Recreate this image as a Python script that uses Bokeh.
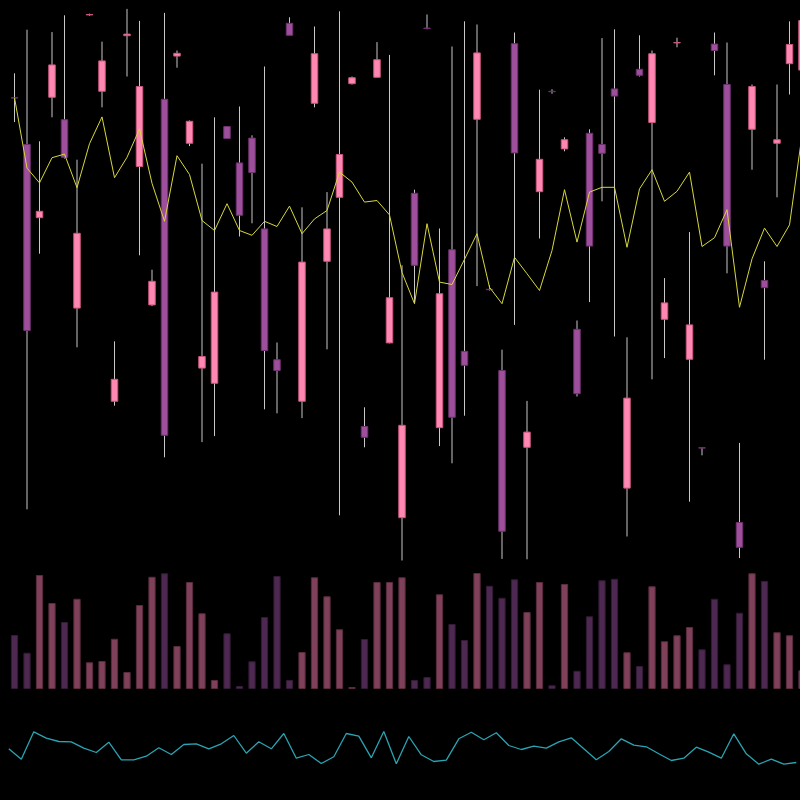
from bokeh.plotting import figure
from bokeh.layouts import column
from bokeh.models import ColumnDataSource, Range1d, GlobalInlineStyleSheet
from bokeh.embed import file_html
from bokeh.resources import INLINE

# ---- data ----
open_ = [125.7, 114.0, 95.7, 125.8, 120.2, 73.1, 146.4, 127.3, 49.8, 141.2,
         108.5, 73.9, 125.3, 136.1, 114.3, 58.1, 54.3, 118.5, 109.4, 115.6,
         92.9, 60.2, 144.3, 49.8, 124.3, 84.8, 100.8, 129.2, 43.5, 130.8,
         64.4, 20.7, 101.8, 143.1, 43.2, 87.7, 62.3, 120.3, 77.8, 57.5,
         139.2, 38.3, 102.2, 127.3, 112.9, 67.8, 116.8, 114.0, 127.9, 28.1,
         132.8, 119.5, 70.3, 139.4, 60.3, 38.2, 139.1, 129.0, 19.5, 117.8,
         80.0, 114.3, 134.2, 132.6]
close = [125.6, 67.5, 97.3, 133.9, 110.8, 91.8, 146.5, 134.9, 55.3, 141.6,
         128.5, 79.8, 41.3, 136.8, 119.8, 61.0, 77.1, 115.5, 96.3, 107.0,
         62.5, 57.5, 141.3, 84.6, 136.7, 92.9, 111.5, 130.7, 40.8, 135.2,
         75.7, 43.8, 83.8, 143.0, 76.7, 45.8, 58.8, 136.9, 77.7, 17.3,
         111.9, 42.1, 110.3, 127.2, 115.2, 51.7, 88.6, 111.8, 126.1, 50.6,
         131.3, 136.7, 74.4, 139.5, 68.9, 38.1, 137.5, 88.6, 13.3, 128.5,
         78.2, 115.2, 139.0, 145.0]
high = [131.8, 142.7, 114.8, 142.1, 146.3, 110.2, 146.7, 139.7, 64.8, 147.9,
        144.9, 82.7, 146.9, 137.5, 120.0, 109.2, 120.8, 118.5, 123.5, 116.3,
        133.5, 64.5, 145.8, 98.3, 143.5, 102.1, 147.3, 131.0, 48.3, 139.6,
        136.4, 83.8, 102.7, 146.5, 93.0, 138.5, 144.8, 144.0, 78.8, 62.7,
        142.0, 49.9, 127.7, 127.8, 115.8, 70.0, 117.8, 140.6, 142.8, 65.8,
        141.3, 137.5, 80.6, 140.7, 92.1, 38.2, 142.0, 139.5, 39.4, 129.0,
        84.8, 129.0, 144.8, 146.3]
low = [119.6, 22.8, 86.7, 120.8, 110.5, 63.3, 146.2, 123.3, 48.7, 131.0,
       86.3, 73.6, 35.8, 133.2, 113.6, 39.6, 41.1, 115.5, 91.0, 94.3,
       47.8, 46.8, 141.3, 45.6, 123.3, 62.8, 21.3, 129.0, 38.3, 130.8,
       64.3, 10.0, 74.3, 142.8, 38.6, 34.3, 46.2, 78.6, 77.5, 10.4,
       68.9, 10.3, 90.5, 126.7, 112.3, 51.0, 74.6, 99.8, 66.0, 16.0,
       131.0, 55.3, 60.6, 138.3, 24.7, 36.3, 131.3, 81.8, 10.6, 107.7,
       60.2, 100.8, 126.5, 131.3]
avg_line = [125.7, 108.1, 104.4, 110.7, 111.6, 103.2, 114.2, 120.9, 105.7, 110.8,
            117.9, 104.3, 94.8, 111.2, 106.5, 95.0, 92.5, 99.2, 92.5, 91.3,
            94.8, 93.5, 98.6, 91.7, 95.4, 97.5, 107.1, 104.6, 99.6, 100.0,
            96.4, 82.0, 74.2, 94.2, 79.6, 79.0, 85.3, 91.7, 78.3, 74.2,
            85.8, 81.7, 77.5, 87.5, 102.7, 89.6, 102.1, 103.3, 103.3, 88.3,
            102.9, 107.7, 99.8, 102.3, 107.1, 88.5, 90.7, 97.7, 73.3, 85.4,
            93.1, 88.5, 93.9, 116.3]
volume = [4240, 2820, 9040, 6800, 5280, 7140, 2060, 2160, 3940, 1280,
          6640, 8900, 9180, 3360, 8480, 5980, 640, 4380, 160, 2140,
          5680, 8960, 640, 2880, 8860, 7340, 4700, 80, 3920, 8480,
          8480, 8860, 640, 880, 7500, 5120, 3840, 9200, 8180, 7220,
          8700, 6080, 8480, 220, 8320, 1380, 5740, 8620, 8740, 2860,
          1760, 8140, 3740, 4220, 4880, 3100, 7140, 1900, 6020, 9180,
          8560, 4460, 4220, 1420]
indicator = [51.7, 41.3, 68.7, 62.3, 59.0, 58.7, 52.3, 48.0, 58.3, 40.7,
             40.7, 44.3, 52.7, 46.0, 56.0, 56.7, 51.7, 56.7, 65.0, 47.3,
             58.7, 51.7, 67.0, 42.3, 46.0, 37.0, 43.7, 67.0, 64.3, 42.7,
             69.0, 36.7, 64.0, 45.7, 39.0, 40.3, 61.7, 68.3, 60.7, 67.7,
             55.0, 51.0, 54.3, 52.3, 58.7, 62.7, 51.7, 40.7, 49.0, 61.7,
             55.3, 53.7, 46.7, 40.0, 42.3, 53.3, 48.3, 42.3, 66.7, 46.7,
             36.3, 41.3, 36.3, 38.0]

# ---- styles ----
UP = "#ff88b3"
UP_EDGE = "#c8577f"
DOWN = "#9d4f9b"
DOWN_EDGE = "#6e316d"
VOL_UP = "#7f4059"
VOL_UP_EDGE = "#5a2b3e"
VOL_DOWN = "#4d2850"
VOL_DOWN_EDGE = "#331a35"
BG = "#000000"

n = len(close)
idx = list(range(n))
is_up = [c >= o for o, c in zip(open_, close)]

src = ColumnDataSource(dict(
    x=idx,
    high=high,
    low=low,
    top=[max(o, c) for o, c in zip(open_, close)],
    bottom=[min(o, c) for o, c in zip(open_, close)],
    fill=[UP if u else DOWN for u in is_up],
    edge=[UP_EDGE if u else DOWN_EDGE for u in is_up],
    avg=avg_line,
    vol=volume,
    vfill=[VOL_UP if u else VOL_DOWN for u in is_up],
    vedge=[VOL_UP_EDGE if u else VOL_DOWN_EDGE for u in is_up],
))


def base_fig(h, xr, yr):
    f = figure(width=800, height=h, x_range=xr, y_range=yr,
               output_backend="svg", toolbar_location=None,
               background_fill_color=BG, border_fill_color=BG,
               outline_line_color=None, min_border=0)
    f.xaxis.visible = False
    f.yaxis.visible = False
    f.xgrid.visible = False
    f.ygrid.visible = False
    return f


x_range = Range1d(-1.12, 62.88)

p = base_fig(565, x_range, Range1d(8.75, 150))
p.segment(x0="x", y0="high", x1="x", y1="low", source=src,
          line_color="#c8c8c8", line_width=1)
p.vbar(x="x", width=0.52, top="top", bottom="bottom", source=src,
       fill_color="fill", line_color="edge", line_width=1)
p.line(x="x", y="avg", source=src, line_color="#d8d83c", line_width=1)

pv = base_fig(135, x_range, Range1d(-960, 9840))
pv.vbar(x="x", width=0.5, top="vol", bottom=0, source=src,
        fill_color="vfill", line_color="vedge", line_width=1)

pi = base_fig(100, Range1d(-0.664, 63.336), Range1d(0, 100))
pi.line(x=idx, y=indicator, line_color="#2aa3b3", line_width=1.3)

layout = column(p, pv, pi, spacing=0,
                stylesheets=[GlobalInlineStyleSheet(
                    css="html,body{margin:0;padding:0;background:#000;overflow:hidden;}")])

open("out.html", "w").write(file_html(layout, INLINE))
